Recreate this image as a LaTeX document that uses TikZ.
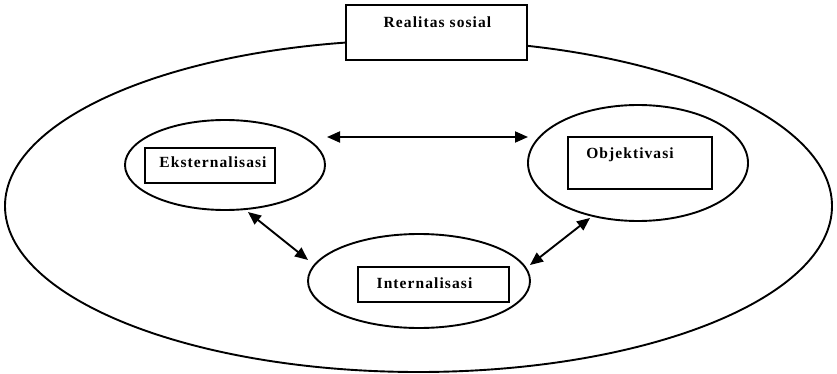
\documentclass[tikz,border=0pt]{standalone}
\usepackage{fontspec}
\setmainfont{Liberation Serif}
\newfontfamily\lblfont[LetterSpace=7]{Liberation Serif Bold}
\usetikzlibrary{arrows.meta,shapes.geometric}
\begin{document}
\begin{tikzpicture}[x=1pt,y=-1pt,
  line/.style={line width=1.9pt},
  oval/.style={line, draw, ellipse, inner sep=0pt},
  box/.style={line, draw, fill=white, rectangle, inner sep=0pt},
  lbl/.style={font=\lblfont\fontsize{15.5}{17}\selectfont, inner sep=0pt, anchor=base},
  dblarrow/.style={line, {Triangle[length=13pt,width=11pt]}-{Triangle[length=13pt,width=11pt]}}
]
\useasboundingbox (0,0) rectangle (837,374);
% outer ellipse
\node[oval, minimum width=827pt, minimum height=332pt] (outer) at (418.5,206) {};
% Realitas sosial
\node[box, minimum width=181pt, minimum height=55pt] (rsbox) at (436.5,32.5) {};
\node[lbl] (rs) at (437.5,28) {Realitas sosial};
% Eksternalisasi
\node[oval, minimum width=200pt, minimum height=90pt] (ext) at (225,165) {};
\node[box, minimum width=130pt, minimum height=35pt] (extbox) at (210,165.5) {};
\node[lbl] (extl) at (213,167.5) {Eksternalisasi};
% Objektivasi
\node[oval, minimum width=220pt, minimum height=116pt] (obj) at (638,163) {};
\node[box, minimum width=144pt, minimum height=52pt] (objbox) at (640,163) {};
\node[lbl] (objl) at (630,158.5) {Objektivasi};
% Internalisasi
\node[oval, minimum width=222pt, minimum height=94pt] (int) at (419,281) {};
\node[box, minimum width=151pt, minimum height=35pt] (intbox) at (433.5,284.5) {};
\node[lbl] (intl) at (424.5,288.5) {Internalisasi};
% arrow end points
\coordinate (a1) at (327,137);
\coordinate (a2) at (528,137);
\coordinate (b1) at (248,212);
\coordinate (b2) at (308,260);
\coordinate (c1) at (530,265);
\coordinate (c2) at (590,218);
\draw[dblarrow] (a1) -- (a2);
\draw[dblarrow] (b1) -- (b2);
\draw[dblarrow] (c1) -- (c2);
\end{tikzpicture}
\end{document}
